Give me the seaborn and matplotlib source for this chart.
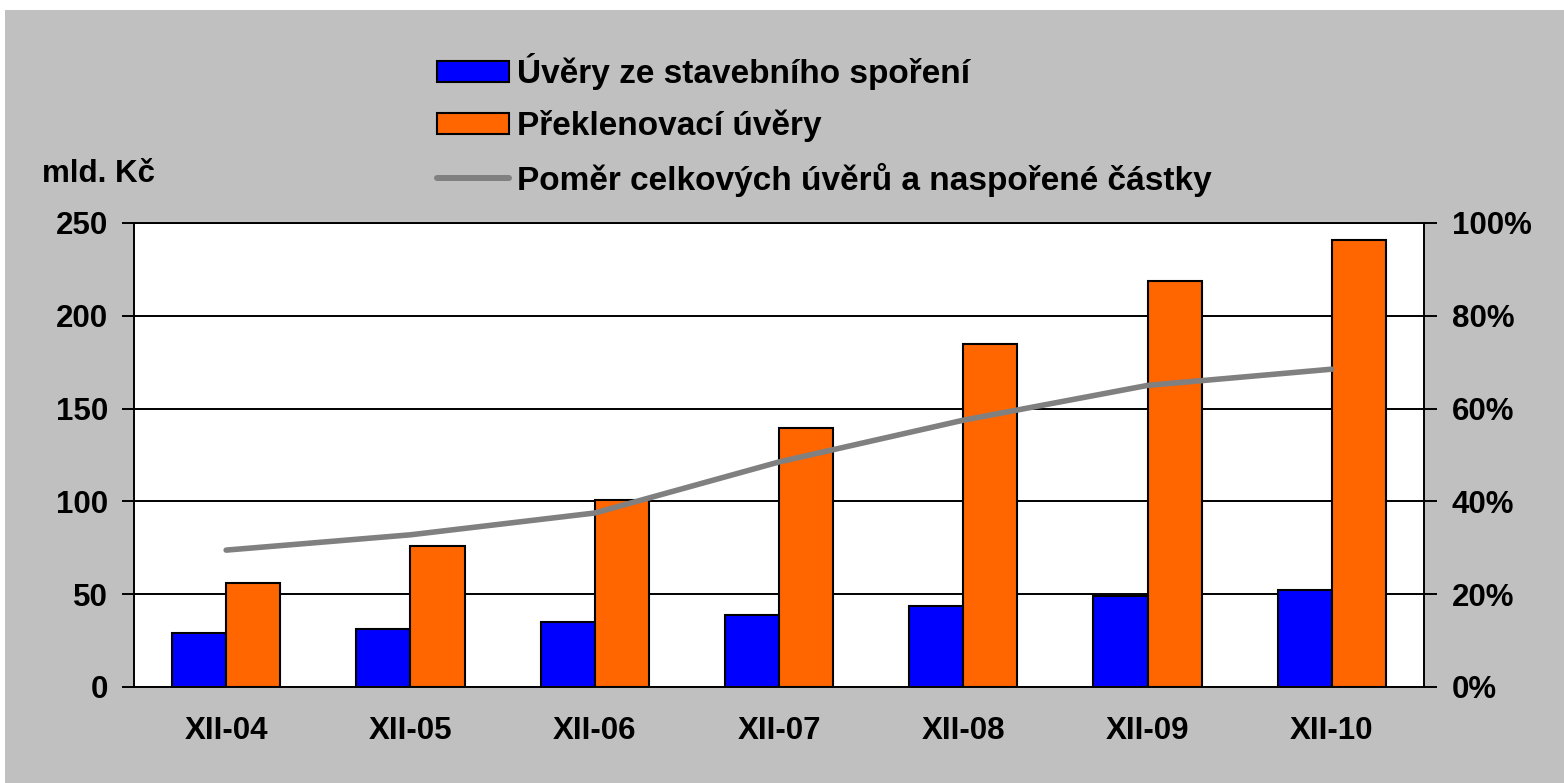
import numpy as np
import pandas as pd
import matplotlib
matplotlib.use("Agg")
import matplotlib.pyplot as plt
import matplotlib.patches as mpatches
import matplotlib.lines as mlines
import seaborn as sns

categories = ["XII-04", "XII-05", "XII-06", "XII-07", "XII-08", "XII-09", "XII-10"]
uvery_ss = [29, 31, 35, 39, 43.5, 49, 52.5]
preklenovaci = [56, 76, 100.5, 139.5, 185, 218.5, 241]
pomer = [29.5, 32.8, 37.5, 48.5, 57.5, 65, 68.5]

s1 = "Úvěry ze stavebního spoření"
s2 = "Překlenovací úvěry"
s3 = "Poměr celkových úvěrů a naspořené částky"

sns.set_theme(style="white")
plt.rcParams['font.family'] = ['Liberation Sans', 'DejaVu Sans']
plt.rcParams['font.weight'] = 'bold'
plt.rcParams['text.color'] = 'black'

W, H = 1564, 783
fig = plt.figure(figsize=(W / 100, H / 100), dpi=100)
fig.patch.set_facecolor("white")
bg = mpatches.Rectangle((5 / W, 0), 1 - 5 / W, 1 - 10 / H, transform=fig.transFigure,
                        facecolor="#C0C0C0", edgecolor="none", zorder=-10)
fig.patches.append(bg)

ax = fig.add_axes([134 / W, 1 - 687 / H, (1424 - 134) / W, (687 - 223) / H])
ax.set_facecolor("white")

df = pd.DataFrame({
    "cat": categories * 2,
    "val": uvery_ss + preklenovaci,
    "series": [s1] * len(categories) + [s2] * len(categories),
})
sns.barplot(data=df, x="cat", y="val", hue="series", palette=["#0000FF", "#FF6600"],
            saturation=1, width=0.587, gap=0, edgecolor="black", linewidth=1.5, ax=ax,
            legend=False, zorder=3)

ax.set_ylim(0, 250)
ax.set_yticks([0, 50, 100, 150, 200, 250])
ax.set_xlim(-0.5, len(categories) - 0.5)
ax.set_xlabel("")
ax.set_ylabel("")
ax.grid(axis="y", color="black", linewidth=1.4, zorder=0)
ax.set_axisbelow(True)
for sp in ax.spines.values():
    sp.set_visible(True)
    sp.set_color("black")
    sp.set_linewidth(1.4)
ax.tick_params(axis="y", which="both", left=True, length=8.6, width=1.4, color="black",
               pad=10, labelsize=22.5, labelcolor="black")
ax.tick_params(axis="x", length=0, pad=21, labelsize=22.5, labelcolor="black")
for t in ax.get_xticklabels() + ax.get_yticklabels():
    t.set_fontweight("bold")

ax2 = ax.twinx()
ldf = pd.DataFrame({"x": np.arange(len(categories)), "y": pomer})
sns.lineplot(data=ldf, x="x", y="y", color="#808080", linewidth=4.0, ax=ax2,
             sort=False, zorder=5)
ax2.set_ylim(0, 100)
ax2.set_yticks([0, 20, 40, 60, 80, 100])
ax2.set_yticklabels([f"{v}%" for v in [0, 20, 40, 60, 80, 100]])
ax2.set_ylabel("")
ax2.set_xlabel("")
ax2.grid(False)
ax2.tick_params(axis="y", right=True, length=9, width=1.4, color="black", pad=11,
                labelsize=22.5, labelcolor="black")
for t in ax2.get_yticklabels():
    t.set_fontweight("bold")
for sp in ax2.spines.values():
    sp.set_visible(False)

fig.text(42 / W, 1 - 182 / H, "mld. Kč", fontsize=22.5, fontweight="bold",
         ha="left", va="baseline", color="black")

h1 = mpatches.Patch(facecolor="#0000FF", edgecolor="black", linewidth=1.5, label=s1)
h2 = mpatches.Patch(facecolor="#FF6600", edgecolor="black", linewidth=1.5, label=s2)
h3 = mlines.Line2D([], [], color="#808080", linewidth=4.3, label=s3)
leg = fig.legend(handles=[h1, h2, h3], loc="upper left",
                 bbox_to_anchor=(437 / W, 1 - 53 / H), frameon=False,
                 prop={"size": 24, "weight": "bold"}, handlelength=2.15,
                 handleheight=0.6, handletextpad=0.25, labelspacing=0.6,
                 borderpad=0, borderaxespad=0)
for t in leg.get_texts():
    t.set_color("black")

fig.savefig("out.png", dpi=100, facecolor=fig.get_facecolor())
